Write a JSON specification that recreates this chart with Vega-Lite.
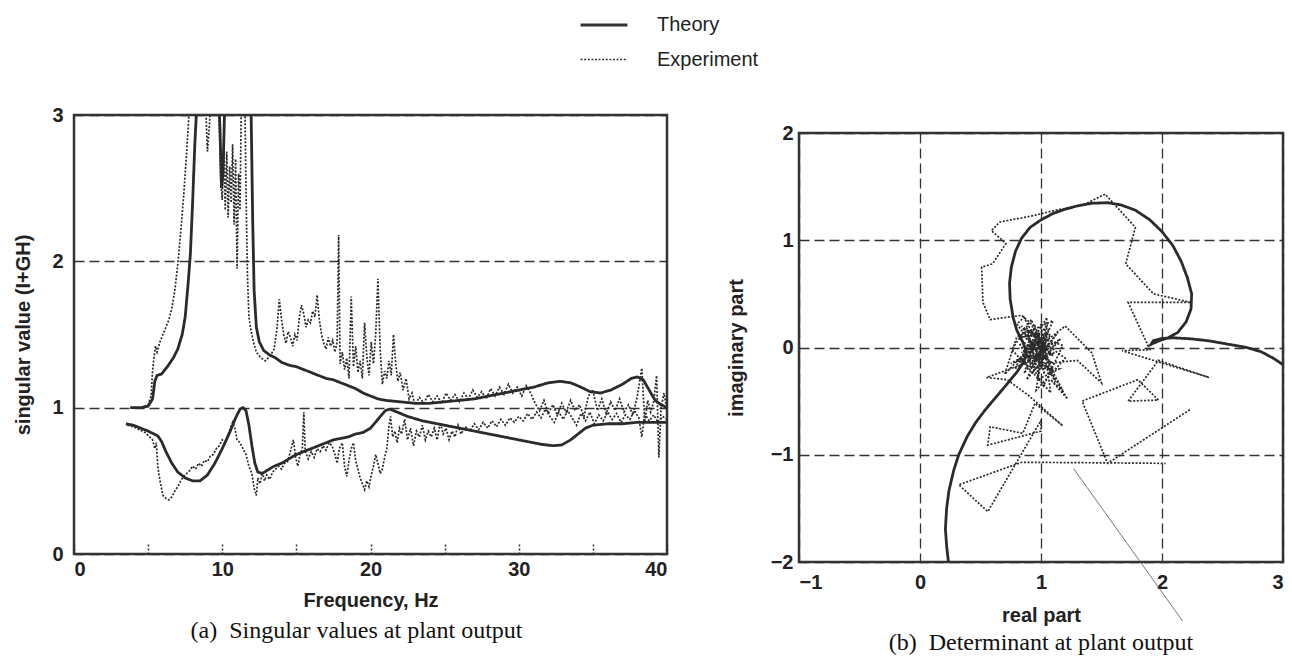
{
  "$schema": "https://vega.github.io/schema/vega-lite/v6.json",
  "background": "white",
  "padding": {"left": 12, "top": 0, "right": 5, "bottom": 5},
  "spacing": 55,
  "config": {
    "view": {"stroke": "#333", "strokeWidth": 2.5},
    "axis": {"labelFont": "Liberation Sans", "labelFontWeight": "bold", "labelFontSize": 20, "labelColor": "#222", "titleFont": "Liberation Sans", "titleFontWeight": "bold", "titleFontSize": 20, "titleColor": "#222", "domain": false, "ticks": false, "grid": true, "gridColor": "#333", "gridDash": [10, 5], "gridWidth": 1.3, "gridOpacity": 1},
    "legend": {"orient": "none", "legendX": 505, "legendY": -115, "symbolType": "stroke", "symbolSize": 2200, "symbolStrokeColor": "#333", "labelFont": "Liberation Sans", "labelFontSize": 20, "labelColor": "#222", "labelOffset": 28, "rowPadding": -2, "padding": 0},
    "title": {"font": "Liberation Serif", "fontSize": 24, "fontWeight": "normal", "color": "#111"}
  },
  "datasets": {
    "sv": [
      {"c":"T1","s":"Theory","f":3.8,"v":1.0},{"c":"T1","s":"Theory","f":4.5,"v":1.0},{"c":"T1","s":"Theory","f":5.0,"v":1.01},{"c":"T1","s":"Theory","f":5.3,"v":1.06},{"c":"T1","s":"Theory","f":5.45,"v":1.18},{"c":"T1","s":"Theory","f":5.6,"v":1.22},{"c":"T1","s":"Theory","f":5.9,"v":1.23},{"c":"T1","s":"Theory","f":6.3,"v":1.28},{"c":"T1","s":"Theory","f":6.7,"v":1.34},{"c":"T1","s":"Theory","f":7.0,"v":1.40},{"c":"T1","s":"Theory","f":7.3,"v":1.50},{"c":"T1","s":"Theory","f":7.5,"v":1.62},{"c":"T1","s":"Theory","f":7.7,"v":1.85},{"c":"T1","s":"Theory","f":7.85,"v":2.05},{"c":"T1","s":"Theory","f":8.0,"v":2.4},{"c":"T1","s":"Theory","f":8.15,"v":2.8},{"c":"T1","s":"Theory","f":8.3,"v":3.1},{"c":"T1","s":"Theory","f":8.5,"v":3.6},{"c":"T1","s":"Theory","f":9.0,"v":4.0},{"c":"T1","s":"Theory","f":9.6,"v":3.5},{"c":"T1","s":"Theory","f":9.85,"v":2.9},{"c":"T1","s":"Theory","f":9.95,"v":2.5},{"c":"T1","s":"Theory","f":10.05,"v":2.6},{"c":"T1","s":"Theory","f":10.2,"v":3.2},{"c":"T1","s":"Theory","f":10.5,"v":3.8},{"c":"T1","s":"Theory","f":11.0,"v":4.2},{"c":"T1","s":"Theory","f":11.5,"v":4.0},{"c":"T1","s":"Theory","f":11.8,"v":3.4},{"c":"T1","s":"Theory","f":11.95,"v":3.0},{"c":"T1","s":"Theory","f":12.05,"v":2.3},{"c":"T1","s":"Theory","f":12.15,"v":1.8},{"c":"T1","s":"Theory","f":12.3,"v":1.55},{"c":"T1","s":"Theory","f":12.5,"v":1.45},{"c":"T1","s":"Theory","f":12.8,"v":1.39},{"c":"T1","s":"Theory","f":13.2,"v":1.36},{"c":"T1","s":"Theory","f":13.6,"v":1.34},{"c":"T1","s":"Theory","f":14.0,"v":1.31},{"c":"T1","s":"Theory","f":14.5,"v":1.29},{"c":"T1","s":"Theory","f":15.0,"v":1.28},{"c":"T1","s":"Theory","f":15.5,"v":1.26},{"c":"T1","s":"Theory","f":16.0,"v":1.24},{"c":"T1","s":"Theory","f":16.5,"v":1.22},{"c":"T1","s":"Theory","f":17.0,"v":1.20},{"c":"T1","s":"Theory","f":17.5,"v":1.19},{"c":"T1","s":"Theory","f":18.0,"v":1.17},{"c":"T1","s":"Theory","f":18.5,"v":1.15},{"c":"T1","s":"Theory","f":19.0,"v":1.13},{"c":"T1","s":"Theory","f":19.5,"v":1.10},{"c":"T1","s":"Theory","f":20.0,"v":1.08},{"c":"T1","s":"Theory","f":20.5,"v":1.06},{"c":"T1","s":"Theory","f":21.0,"v":1.05},{"c":"T1","s":"Theory","f":22.0,"v":1.04},{"c":"T1","s":"Theory","f":23.0,"v":1.03},{"c":"T1","s":"Theory","f":24.0,"v":1.03},{"c":"T1","s":"Theory","f":25.0,"v":1.04},{"c":"T1","s":"Theory","f":26.0,"v":1.05},{"c":"T1","s":"Theory","f":27.0,"v":1.06},{"c":"T1","s":"Theory","f":28.0,"v":1.08},{"c":"T1","s":"Theory","f":29.0,"v":1.10},{"c":"T1","s":"Theory","f":30.0,"v":1.12},{"c":"T1","s":"Theory","f":31.0,"v":1.14},{"c":"T1","s":"Theory","f":32.0,"v":1.17},{"c":"T1","s":"Theory","f":32.8,"v":1.18},{"c":"T1","s":"Theory","f":33.5,"v":1.17},{"c":"T1","s":"Theory","f":34.2,"v":1.14},{"c":"T1","s":"Theory","f":34.8,"v":1.11},{"c":"T1","s":"Theory","f":35.5,"v":1.10},{"c":"T1","s":"Theory","f":36.2,"v":1.12},{"c":"T1","s":"Theory","f":37.0,"v":1.16},{"c":"T1","s":"Theory","f":37.6,"v":1.20},{"c":"T1","s":"Theory","f":38.0,"v":1.21},{"c":"T1","s":"Theory","f":38.4,"v":1.19},{"c":"T1","s":"Theory","f":38.8,"v":1.12},{"c":"T1","s":"Theory","f":39.2,"v":1.05},{"c":"T1","s":"Theory","f":39.6,"v":1.02},{"c":"T1","s":"Theory","f":40.0,"v":1.0},
      {"c":"T2","s":"Theory","f":3.5,"v":0.89},{"c":"T2","s":"Theory","f":4.0,"v":0.88},{"c":"T2","s":"Theory","f":4.5,"v":0.86},{"c":"T2","s":"Theory","f":5.0,"v":0.84},{"c":"T2","s":"Theory","f":5.4,"v":0.82},{"c":"T2","s":"Theory","f":5.6,"v":0.81},{"c":"T2","s":"Theory","f":5.7,"v":0.80},{"c":"T2","s":"Theory","f":5.9,"v":0.77},{"c":"T2","s":"Theory","f":6.2,"v":0.70},{"c":"T2","s":"Theory","f":6.6,"v":0.62},{"c":"T2","s":"Theory","f":7.0,"v":0.56},{"c":"T2","s":"Theory","f":7.5,"v":0.52},{"c":"T2","s":"Theory","f":8.0,"v":0.50},{"c":"T2","s":"Theory","f":8.5,"v":0.50},{"c":"T2","s":"Theory","f":9.0,"v":0.54},{"c":"T2","s":"Theory","f":9.5,"v":0.62},{"c":"T2","s":"Theory","f":10.0,"v":0.72},{"c":"T2","s":"Theory","f":10.5,"v":0.83},{"c":"T2","s":"Theory","f":10.9,"v":0.93},{"c":"T2","s":"Theory","f":11.2,"v":0.99},{"c":"T2","s":"Theory","f":11.4,"v":1.0},{"c":"T2","s":"Theory","f":11.6,"v":0.98},{"c":"T2","s":"Theory","f":11.8,"v":0.88},{"c":"T2","s":"Theory","f":12.0,"v":0.74},{"c":"T2","s":"Theory","f":12.2,"v":0.62},{"c":"T2","s":"Theory","f":12.4,"v":0.56},{"c":"T2","s":"Theory","f":12.7,"v":0.55},{"c":"T2","s":"Theory","f":13.0,"v":0.57},{"c":"T2","s":"Theory","f":13.5,"v":0.60},{"c":"T2","s":"Theory","f":14.0,"v":0.62},{"c":"T2","s":"Theory","f":14.5,"v":0.65},{"c":"T2","s":"Theory","f":15.0,"v":0.68},{"c":"T2","s":"Theory","f":15.5,"v":0.70},{"c":"T2","s":"Theory","f":16.0,"v":0.72},{"c":"T2","s":"Theory","f":16.5,"v":0.74},{"c":"T2","s":"Theory","f":17.0,"v":0.76},{"c":"T2","s":"Theory","f":17.5,"v":0.78},{"c":"T2","s":"Theory","f":18.0,"v":0.79},{"c":"T2","s":"Theory","f":18.5,"v":0.80},{"c":"T2","s":"Theory","f":19.0,"v":0.82},{"c":"T2","s":"Theory","f":19.5,"v":0.83},{"c":"T2","s":"Theory","f":20.0,"v":0.86},{"c":"T2","s":"Theory","f":20.5,"v":0.92},{"c":"T2","s":"Theory","f":21.0,"v":0.98},{"c":"T2","s":"Theory","f":21.3,"v":0.99},{"c":"T2","s":"Theory","f":21.8,"v":0.97},{"c":"T2","s":"Theory","f":22.5,"v":0.94},{"c":"T2","s":"Theory","f":23.5,"v":0.91},{"c":"T2","s":"Theory","f":24.5,"v":0.89},{"c":"T2","s":"Theory","f":25.5,"v":0.87},{"c":"T2","s":"Theory","f":26.5,"v":0.85},{"c":"T2","s":"Theory","f":27.5,"v":0.83},{"c":"T2","s":"Theory","f":28.5,"v":0.81},{"c":"T2","s":"Theory","f":29.5,"v":0.79},{"c":"T2","s":"Theory","f":30.5,"v":0.77},{"c":"T2","s":"Theory","f":31.5,"v":0.75},{"c":"T2","s":"Theory","f":32.3,"v":0.74},{"c":"T2","s":"Theory","f":32.9,"v":0.745},{"c":"T2","s":"Theory","f":33.5,"v":0.78},{"c":"T2","s":"Theory","f":34.0,"v":0.82},{"c":"T2","s":"Theory","f":34.5,"v":0.86},{"c":"T2","s":"Theory","f":35.0,"v":0.88},{"c":"T2","s":"Theory","f":36.0,"v":0.89},{"c":"T2","s":"Theory","f":37.0,"v":0.89},{"c":"T2","s":"Theory","f":38.0,"v":0.90},{"c":"T2","s":"Theory","f":39.0,"v":0.90},{"c":"T2","s":"Theory","f":40.0,"v":0.90},
      {"c":"E1","s":"Experiment","f":3.8,"v":1.0},{"c":"E1","s":"Experiment","f":4.5,"v":1.0},{"c":"E1","s":"Experiment","f":5.0,"v":1.02},{"c":"E1","s":"Experiment","f":5.2,"v":1.08},{"c":"E1","s":"Experiment","f":5.3,"v":1.25},{"c":"E1","s":"Experiment","f":5.4,"v":1.35},{"c":"E1","s":"Experiment","f":5.5,"v":1.42},{"c":"E1","s":"Experiment","f":5.6,"v":1.38},{"c":"E1","s":"Experiment","f":5.8,"v":1.45},{"c":"E1","s":"Experiment","f":6.0,"v":1.50},{"c":"E1","s":"Experiment","f":6.2,"v":1.55},{"c":"E1","s":"Experiment","f":6.4,"v":1.60},{"c":"E1","s":"Experiment","f":6.6,"v":1.68},{"c":"E1","s":"Experiment","f":6.8,"v":1.80},{"c":"E1","s":"Experiment","f":7.0,"v":1.98},{"c":"E1","s":"Experiment","f":7.2,"v":2.2},{"c":"E1","s":"Experiment","f":7.4,"v":2.45},{"c":"E1","s":"Experiment","f":7.6,"v":2.75},{"c":"E1","s":"Experiment","f":7.75,"v":3.0},{"c":"E1","s":"Experiment","f":7.9,"v":3.4},{"c":"E1","s":"Experiment","f":8.3,"v":3.8},{"c":"E1","s":"Experiment","f":8.8,"v":3.3},{"c":"E1","s":"Experiment","f":9.0,"v":2.75},{"c":"E1","s":"Experiment","f":9.15,"v":2.95},{"c":"E1","s":"Experiment","f":9.3,"v":3.4},{"c":"E1","s":"Experiment","f":9.7,"v":3.3},{"c":"E1","s":"Experiment","f":9.9,"v":2.55},{"c":"E1","s":"Experiment","f":10.0,"v":2.42},{"c":"E1","s":"Experiment","f":10.1,"v":2.8},{"c":"E1","s":"Experiment","f":10.2,"v":2.35},{"c":"E1","s":"Experiment","f":10.3,"v":2.75},{"c":"E1","s":"Experiment","f":10.4,"v":2.3},{"c":"E1","s":"Experiment","f":10.5,"v":2.65},{"c":"E1","s":"Experiment","f":10.6,"v":2.4},{"c":"E1","s":"Experiment","f":10.7,"v":2.8},{"c":"E1","s":"Experiment","f":10.8,"v":2.25},{"c":"E1","s":"Experiment","f":10.9,"v":2.7},{"c":"E1","s":"Experiment","f":11.0,"v":1.95},{"c":"E1","s":"Experiment","f":11.1,"v":2.6},{"c":"E1","s":"Experiment","f":11.2,"v":2.35},{"c":"E1","s":"Experiment","f":11.3,"v":3.2},{"c":"E1","s":"Experiment","f":11.5,"v":3.3},{"c":"E1","s":"Experiment","f":11.6,"v":2.5},{"c":"E1","s":"Experiment","f":11.7,"v":1.9},{"c":"E1","s":"Experiment","f":11.8,"v":1.62},{"c":"E1","s":"Experiment","f":11.9,"v":1.55},{"c":"E1","s":"Experiment","f":12.1,"v":1.45},{"c":"E1","s":"Experiment","f":12.3,"v":1.38},{"c":"E1","s":"Experiment","f":12.6,"v":1.34},{"c":"E1","s":"Experiment","f":12.9,"v":1.32},{"c":"E1","s":"Experiment","f":13.2,"v":1.35},{"c":"E1","s":"Experiment","f":13.5,"v":1.40},{"c":"E1","s":"Experiment","f":13.7,"v":1.55},{"c":"E1","s":"Experiment","f":13.85,"v":1.74},{"c":"E1","s":"Experiment","f":14.0,"v":1.6},{"c":"E1","s":"Experiment","f":14.15,"v":1.5},{"c":"E1","s":"Experiment","f":14.3,"v":1.44},{"c":"E1","s":"Experiment","f":14.45,"v":1.52},{"c":"E1","s":"Experiment","f":14.6,"v":1.48},{"c":"E1","s":"Experiment","f":14.75,"v":1.42},{"c":"E1","s":"Experiment","f":14.9,"v":1.5},{"c":"E1","s":"Experiment","f":15.05,"v":1.46},{"c":"E1","s":"Experiment","f":15.2,"v":1.62},{"c":"E1","s":"Experiment","f":15.35,"v":1.70},{"c":"E1","s":"Experiment","f":15.5,"v":1.64},{"c":"E1","s":"Experiment","f":15.65,"v":1.55},{"c":"E1","s":"Experiment","f":15.8,"v":1.6},{"c":"E1","s":"Experiment","f":15.95,"v":1.58},{"c":"E1","s":"Experiment","f":16.1,"v":1.66},{"c":"E1","s":"Experiment","f":16.25,"v":1.62},{"c":"E1","s":"Experiment","f":16.4,"v":1.77},{"c":"E1","s":"Experiment","f":16.55,"v":1.6},{"c":"E1","s":"Experiment","f":16.7,"v":1.5},{"c":"E1","s":"Experiment","f":16.85,"v":1.44},{"c":"E1","s":"Experiment","f":17.0,"v":1.4},{"c":"E1","s":"Experiment","f":17.15,"v":1.48},{"c":"E1","s":"Experiment","f":17.3,"v":1.42},{"c":"E1","s":"Experiment","f":17.45,"v":1.46},{"c":"E1","s":"Experiment","f":17.6,"v":1.38},{"c":"E1","s":"Experiment","f":17.75,"v":1.45},{"c":"E1","s":"Experiment","f":17.85,"v":2.18},{"c":"E1","s":"Experiment","f":17.95,"v":1.30},{"c":"E1","s":"Experiment","f":18.1,"v":1.38},{"c":"E1","s":"Experiment","f":18.25,"v":1.26},{"c":"E1","s":"Experiment","f":18.4,"v":1.34},{"c":"E1","s":"Experiment","f":18.55,"v":1.20},{"c":"E1","s":"Experiment","f":18.7,"v":1.76},{"c":"E1","s":"Experiment","f":18.85,"v":1.28},{"c":"E1","s":"Experiment","f":19.0,"v":1.42},{"c":"E1","s":"Experiment","f":19.15,"v":1.24},{"c":"E1","s":"Experiment","f":19.3,"v":1.32},{"c":"E1","s":"Experiment","f":19.45,"v":1.20},{"c":"E1","s":"Experiment","f":19.6,"v":1.58},{"c":"E1","s":"Experiment","f":19.75,"v":1.35},{"c":"E1","s":"Experiment","f":19.9,"v":1.22},{"c":"E1","s":"Experiment","f":20.05,"v":1.45},{"c":"E1","s":"Experiment","f":20.2,"v":1.30},{"c":"E1","s":"Experiment","f":20.35,"v":1.50},{"c":"E1","s":"Experiment","f":20.5,"v":1.88},{"c":"E1","s":"Experiment","f":20.65,"v":1.40},{"c":"E1","s":"Experiment","f":20.8,"v":1.16},{"c":"E1","s":"Experiment","f":20.95,"v":1.25},{"c":"E1","s":"Experiment","f":21.1,"v":1.20},{"c":"E1","s":"Experiment","f":21.25,"v":1.32},{"c":"E1","s":"Experiment","f":21.4,"v":1.22},{"c":"E1","s":"Experiment","f":21.55,"v":1.50},{"c":"E1","s":"Experiment","f":21.7,"v":1.30},{"c":"E1","s":"Experiment","f":21.85,"v":1.18},{"c":"E1","s":"Experiment","f":22.0,"v":1.24},{"c":"E1","s":"Experiment","f":22.2,"v":1.12},{"c":"E1","s":"Experiment","f":22.4,"v":1.20},{"c":"E1","s":"Experiment","f":22.6,"v":1.06},{"c":"E1","s":"Experiment","f":22.8,"v":1.10},{"c":"E1","s":"Experiment","f":23.0,"v":1.02},{"c":"E1","s":"Experiment","f":23.3,"v":1.07},{"c":"E1","s":"Experiment","f":23.6,"v":1.03},{"c":"E1","s":"Experiment","f":23.9,"v":1.09},{"c":"E1","s":"Experiment","f":24.2,"v":1.04},{"c":"E1","s":"Experiment","f":24.5,"v":1.08},{"c":"E1","s":"Experiment","f":24.8,"v":1.03},{"c":"E1","s":"Experiment","f":25.1,"v":1.10},{"c":"E1","s":"Experiment","f":25.4,"v":1.05},{"c":"E1","s":"Experiment","f":25.7,"v":1.09},{"c":"E1","s":"Experiment","f":26.0,"v":1.04},{"c":"E1","s":"Experiment","f":26.3,"v":1.10},{"c":"E1","s":"Experiment","f":26.6,"v":1.06},{"c":"E1","s":"Experiment","f":26.9,"v":1.12},{"c":"E1","s":"Experiment","f":27.2,"v":1.07},{"c":"E1","s":"Experiment","f":27.5,"v":1.11},{"c":"E1","s":"Experiment","f":27.8,"v":1.06},{"c":"E1","s":"Experiment","f":28.1,"v":1.13},{"c":"E1","s":"Experiment","f":28.4,"v":1.08},{"c":"E1","s":"Experiment","f":28.7,"v":1.14},{"c":"E1","s":"Experiment","f":29.0,"v":1.09},{"c":"E1","s":"Experiment","f":29.3,"v":1.16},{"c":"E1","s":"Experiment","f":29.6,"v":1.10},{"c":"E1","s":"Experiment","f":29.9,"v":1.14},{"c":"E1","s":"Experiment","f":30.2,"v":1.08},{"c":"E1","s":"Experiment","f":30.5,"v":1.15},{"c":"E1","s":"Experiment","f":30.8,"v":1.10},{"c":"E1","s":"Experiment","f":31.1,"v":1.03},{"c":"E1","s":"Experiment","f":31.4,"v":0.98},{"c":"E1","s":"Experiment","f":31.7,"v":1.05},{"c":"E1","s":"Experiment","f":32.0,"v":0.96},{"c":"E1","s":"Experiment","f":32.3,"v":1.02},{"c":"E1","s":"Experiment","f":32.6,"v":0.95},{"c":"E1","s":"Experiment","f":32.9,"v":1.03},{"c":"E1","s":"Experiment","f":33.2,"v":0.97},{"c":"E1","s":"Experiment","f":33.5,"v":1.05},{"c":"E1","s":"Experiment","f":33.8,"v":0.98},{"c":"E1","s":"Experiment","f":34.1,"v":1.02},{"c":"E1","s":"Experiment","f":34.4,"v":0.94},{"c":"E1","s":"Experiment","f":34.7,"v":1.08},{"c":"E1","s":"Experiment","f":35.0,"v":1.12},{"c":"E1","s":"Experiment","f":35.3,"v":0.98},{"c":"E1","s":"Experiment","f":35.6,"v":1.06},{"c":"E1","s":"Experiment","f":35.9,"v":0.96},{"c":"E1","s":"Experiment","f":36.2,"v":1.04},{"c":"E1","s":"Experiment","f":36.5,"v":0.98},{"c":"E1","s":"Experiment","f":36.8,"v":1.06},{"c":"E1","s":"Experiment","f":37.1,"v":0.97},{"c":"E1","s":"Experiment","f":37.4,"v":1.02},{"c":"E1","s":"Experiment","f":37.7,"v":0.95},{"c":"E1","s":"Experiment","f":38.0,"v":1.08},{"c":"E1","s":"Experiment","f":38.3,"v":1.27},{"c":"E1","s":"Experiment","f":38.5,"v":0.90},{"c":"E1","s":"Experiment","f":38.7,"v":1.05},{"c":"E1","s":"Experiment","f":38.9,"v":0.97},{"c":"E1","s":"Experiment","f":39.1,"v":1.04},{"c":"E1","s":"Experiment","f":39.3,"v":1.22},{"c":"E1","s":"Experiment","f":39.45,"v":0.66},{"c":"E1","s":"Experiment","f":39.6,"v":1.0},{"c":"E1","s":"Experiment","f":39.8,"v":1.10},{"c":"E1","s":"Experiment","f":40.0,"v":0.98},
      {"c":"E2","s":"Experiment","f":3.6,"v":0.88},{"c":"E2","s":"Experiment","f":4.0,"v":0.87},{"c":"E2","s":"Experiment","f":4.4,"v":0.85},{"c":"E2","s":"Experiment","f":4.8,"v":0.83},{"c":"E2","s":"Experiment","f":5.1,"v":0.80},{"c":"E2","s":"Experiment","f":5.3,"v":0.78},{"c":"E2","s":"Experiment","f":5.45,"v":0.72},{"c":"E2","s":"Experiment","f":5.55,"v":0.76},{"c":"E2","s":"Experiment","f":5.65,"v":0.60},{"c":"E2","s":"Experiment","f":5.75,"v":0.53},{"c":"E2","s":"Experiment","f":5.9,"v":0.45},{"c":"E2","s":"Experiment","f":6.0,"v":0.40},{"c":"E2","s":"Experiment","f":6.2,"v":0.38},{"c":"E2","s":"Experiment","f":6.4,"v":0.37},{"c":"E2","s":"Experiment","f":6.6,"v":0.39},{"c":"E2","s":"Experiment","f":6.8,"v":0.43},{"c":"E2","s":"Experiment","f":7.0,"v":0.46},{"c":"E2","s":"Experiment","f":7.2,"v":0.50},{"c":"E2","s":"Experiment","f":7.4,"v":0.53},{"c":"E2","s":"Experiment","f":7.6,"v":0.55},{"c":"E2","s":"Experiment","f":7.8,"v":0.57},{"c":"E2","s":"Experiment","f":8.0,"v":0.60},{"c":"E2","s":"Experiment","f":8.2,"v":0.58},{"c":"E2","s":"Experiment","f":8.4,"v":0.62},{"c":"E2","s":"Experiment","f":8.6,"v":0.60},{"c":"E2","s":"Experiment","f":8.8,"v":0.64},{"c":"E2","s":"Experiment","f":9.0,"v":0.63},{"c":"E2","s":"Experiment","f":9.2,"v":0.67},{"c":"E2","s":"Experiment","f":9.4,"v":0.68},{"c":"E2","s":"Experiment","f":9.6,"v":0.72},{"c":"E2","s":"Experiment","f":9.8,"v":0.74},{"c":"E2","s":"Experiment","f":10.0,"v":0.78},{"c":"E2","s":"Experiment","f":10.2,"v":0.76},{"c":"E2","s":"Experiment","f":10.4,"v":0.82},{"c":"E2","s":"Experiment","f":10.55,"v":0.86},{"c":"E2","s":"Experiment","f":10.7,"v":0.90},{"c":"E2","s":"Experiment","f":10.85,"v":0.86},{"c":"E2","s":"Experiment","f":11.0,"v":0.78},{"c":"E2","s":"Experiment","f":11.2,"v":0.76},{"c":"E2","s":"Experiment","f":11.4,"v":0.72},{"c":"E2","s":"Experiment","f":11.6,"v":0.68},{"c":"E2","s":"Experiment","f":11.8,"v":0.60},{"c":"E2","s":"Experiment","f":12.0,"v":0.55},{"c":"E2","s":"Experiment","f":12.15,"v":0.45},{"c":"E2","s":"Experiment","f":12.3,"v":0.40},{"c":"E2","s":"Experiment","f":12.4,"v":0.52},{"c":"E2","s":"Experiment","f":12.55,"v":0.48},{"c":"E2","s":"Experiment","f":12.7,"v":0.56},{"c":"E2","s":"Experiment","f":12.85,"v":0.50},{"c":"E2","s":"Experiment","f":13.0,"v":0.54},{"c":"E2","s":"Experiment","f":13.2,"v":0.51},{"c":"E2","s":"Experiment","f":13.4,"v":0.56},{"c":"E2","s":"Experiment","f":13.6,"v":0.58},{"c":"E2","s":"Experiment","f":13.8,"v":0.60},{"c":"E2","s":"Experiment","f":14.0,"v":0.58},{"c":"E2","s":"Experiment","f":14.2,"v":0.62},{"c":"E2","s":"Experiment","f":14.4,"v":0.63},{"c":"E2","s":"Experiment","f":14.6,"v":0.70},{"c":"E2","s":"Experiment","f":14.8,"v":0.78},{"c":"E2","s":"Experiment","f":14.95,"v":0.66},{"c":"E2","s":"Experiment","f":15.1,"v":0.60},{"c":"E2","s":"Experiment","f":15.25,"v":0.68},{"c":"E2","s":"Experiment","f":15.4,"v":0.72},{"c":"E2","s":"Experiment","f":15.5,"v":0.97},{"c":"E2","s":"Experiment","f":15.6,"v":0.70},{"c":"E2","s":"Experiment","f":15.8,"v":0.65},{"c":"E2","s":"Experiment","f":16.0,"v":0.70},{"c":"E2","s":"Experiment","f":16.2,"v":0.66},{"c":"E2","s":"Experiment","f":16.4,"v":0.72},{"c":"E2","s":"Experiment","f":16.6,"v":0.70},{"c":"E2","s":"Experiment","f":16.8,"v":0.74},{"c":"E2","s":"Experiment","f":17.0,"v":0.71},{"c":"E2","s":"Experiment","f":17.2,"v":0.76},{"c":"E2","s":"Experiment","f":17.4,"v":0.74},{"c":"E2","s":"Experiment","f":17.6,"v":0.68},{"c":"E2","s":"Experiment","f":17.75,"v":0.62},{"c":"E2","s":"Experiment","f":17.9,"v":0.72},{"c":"E2","s":"Experiment","f":18.1,"v":0.76},{"c":"E2","s":"Experiment","f":18.25,"v":0.60},{"c":"E2","s":"Experiment","f":18.4,"v":0.53},{"c":"E2","s":"Experiment","f":18.55,"v":0.64},{"c":"E2","s":"Experiment","f":18.7,"v":0.72},{"c":"E2","s":"Experiment","f":18.85,"v":0.76},{"c":"E2","s":"Experiment","f":19.0,"v":0.64},{"c":"E2","s":"Experiment","f":19.15,"v":0.58},{"c":"E2","s":"Experiment","f":19.3,"v":0.52},{"c":"E2","s":"Experiment","f":19.45,"v":0.48},{"c":"E2","s":"Experiment","f":19.6,"v":0.44},{"c":"E2","s":"Experiment","f":19.75,"v":0.50},{"c":"E2","s":"Experiment","f":19.9,"v":0.46},{"c":"E2","s":"Experiment","f":20.05,"v":0.54},{"c":"E2","s":"Experiment","f":20.2,"v":0.60},{"c":"E2","s":"Experiment","f":20.35,"v":0.68},{"c":"E2","s":"Experiment","f":20.5,"v":0.62},{"c":"E2","s":"Experiment","f":20.65,"v":0.55},{"c":"E2","s":"Experiment","f":20.8,"v":0.58},{"c":"E2","s":"Experiment","f":20.95,"v":0.66},{"c":"E2","s":"Experiment","f":21.1,"v":0.72},{"c":"E2","s":"Experiment","f":21.25,"v":0.88},{"c":"E2","s":"Experiment","f":21.35,"v":0.94},{"c":"E2","s":"Experiment","f":21.5,"v":0.80},{"c":"E2","s":"Experiment","f":21.65,"v":0.84},{"c":"E2","s":"Experiment","f":21.8,"v":0.76},{"c":"E2","s":"Experiment","f":21.95,"v":0.86},{"c":"E2","s":"Experiment","f":22.1,"v":0.82},{"c":"E2","s":"Experiment","f":22.3,"v":0.92},{"c":"E2","s":"Experiment","f":22.5,"v":0.78},{"c":"E2","s":"Experiment","f":22.7,"v":0.86},{"c":"E2","s":"Experiment","f":22.9,"v":0.74},{"c":"E2","s":"Experiment","f":23.1,"v":0.84},{"c":"E2","s":"Experiment","f":23.3,"v":0.80},{"c":"E2","s":"Experiment","f":23.5,"v":0.88},{"c":"E2","s":"Experiment","f":23.7,"v":0.78},{"c":"E2","s":"Experiment","f":23.9,"v":0.84},{"c":"E2","s":"Experiment","f":24.1,"v":0.80},{"c":"E2","s":"Experiment","f":24.3,"v":0.86},{"c":"E2","s":"Experiment","f":24.5,"v":0.78},{"c":"E2","s":"Experiment","f":24.7,"v":0.90},{"c":"E2","s":"Experiment","f":24.9,"v":0.82},{"c":"E2","s":"Experiment","f":25.1,"v":0.86},{"c":"E2","s":"Experiment","f":25.3,"v":0.78},{"c":"E2","s":"Experiment","f":25.5,"v":0.84},{"c":"E2","s":"Experiment","f":25.7,"v":0.80},{"c":"E2","s":"Experiment","f":25.9,"v":0.88},{"c":"E2","s":"Experiment","f":26.1,"v":0.82},{"c":"E2","s":"Experiment","f":26.4,"v":0.87},{"c":"E2","s":"Experiment","f":26.7,"v":0.84},{"c":"E2","s":"Experiment","f":27.0,"v":0.89},{"c":"E2","s":"Experiment","f":27.3,"v":0.85},{"c":"E2","s":"Experiment","f":27.6,"v":0.90},{"c":"E2","s":"Experiment","f":27.9,"v":0.86},{"c":"E2","s":"Experiment","f":28.2,"v":0.91},{"c":"E2","s":"Experiment","f":28.5,"v":0.87},{"c":"E2","s":"Experiment","f":28.8,"v":0.92},{"c":"E2","s":"Experiment","f":29.1,"v":0.88},{"c":"E2","s":"Experiment","f":29.4,"v":0.93},{"c":"E2","s":"Experiment","f":29.7,"v":0.90},{"c":"E2","s":"Experiment","f":30.0,"v":0.94},{"c":"E2","s":"Experiment","f":30.3,"v":0.91},{"c":"E2","s":"Experiment","f":30.6,"v":0.96},{"c":"E2","s":"Experiment","f":30.9,"v":0.92},{"c":"E2","s":"Experiment","f":31.2,"v":0.97},{"c":"E2","s":"Experiment","f":31.5,"v":0.93},{"c":"E2","s":"Experiment","f":31.8,"v":0.99},{"c":"E2","s":"Experiment","f":32.1,"v":0.94},{"c":"E2","s":"Experiment","f":32.4,"v":0.90},{"c":"E2","s":"Experiment","f":32.7,"v":0.97},{"c":"E2","s":"Experiment","f":33.0,"v":0.92},{"c":"E2","s":"Experiment","f":33.3,"v":0.98},{"c":"E2","s":"Experiment","f":33.6,"v":0.93},{"c":"E2","s":"Experiment","f":33.9,"v":0.88},{"c":"E2","s":"Experiment","f":34.2,"v":0.96},{"c":"E2","s":"Experiment","f":34.5,"v":0.91},{"c":"E2","s":"Experiment","f":34.8,"v":0.97},{"c":"E2","s":"Experiment","f":35.1,"v":0.89},{"c":"E2","s":"Experiment","f":35.4,"v":0.95},{"c":"E2","s":"Experiment","f":35.7,"v":0.91},{"c":"E2","s":"Experiment","f":36.0,"v":0.97},{"c":"E2","s":"Experiment","f":36.3,"v":0.92},{"c":"E2","s":"Experiment","f":36.6,"v":0.96},{"c":"E2","s":"Experiment","f":36.9,"v":0.90},{"c":"E2","s":"Experiment","f":37.2,"v":0.95},{"c":"E2","s":"Experiment","f":37.5,"v":0.92},{"c":"E2","s":"Experiment","f":37.8,"v":0.98},{"c":"E2","s":"Experiment","f":38.1,"v":0.93},{"c":"E2","s":"Experiment","f":38.3,"v":0.80},{"c":"E2","s":"Experiment","f":38.5,"v":0.96},{"c":"E2","s":"Experiment","f":38.8,"v":0.91},{"c":"E2","s":"Experiment","f":39.1,"v":0.95},{"c":"E2","s":"Experiment","f":39.4,"v":0.90},{"c":"E2","s":"Experiment","f":39.7,"v":0.94},{"c":"E2","s":"Experiment","f":40.0,"v":0.92}
    ],
    "det": [
      {"s":"Theory","i":0,"re":0.24,"im":-2.05},{"s":"Theory","i":1,"re":0.22,"im":-1.85},{"s":"Theory","i":2,"re":0.21,"im":-1.69},{"s":"Theory","i":3,"re":0.22,"im":-1.5},{"s":"Theory","i":4,"re":0.24,"im":-1.33},{"s":"Theory","i":5,"re":0.28,"im":-1.14},{"s":"Theory","i":6,"re":0.32,"im":-1.0},{"s":"Theory","i":7,"re":0.39,"im":-0.83},{"s":"Theory","i":8,"re":0.46,"im":-0.70},{"s":"Theory","i":9,"re":0.54,"im":-0.58},{"s":"Theory","i":10,"re":0.63,"im":-0.46},{"s":"Theory","i":11,"re":0.72,"im":-0.34},{"s":"Theory","i":12,"re":0.80,"im":-0.23},{"s":"Theory","i":13,"re":0.86,"im":-0.13},{"s":"Theory","i":14,"re":0.88,"im":-0.04},{"s":"Theory","i":15,"re":0.85,"im":0.05},{"s":"Theory","i":16,"re":0.80,"im":0.16},{"s":"Theory","i":17,"re":0.77,"im":0.28},{"s":"Theory","i":18,"re":0.745,"im":0.45},{"s":"Theory","i":19,"re":0.74,"im":0.60},{"s":"Theory","i":20,"re":0.755,"im":0.75},{"s":"Theory","i":21,"re":0.79,"im":0.90},{"s":"Theory","i":22,"re":0.84,"im":1.02},{"s":"Theory","i":23,"re":0.91,"im":1.12},{"s":"Theory","i":24,"re":1.0,"im":1.19},{"s":"Theory","i":25,"re":1.10,"im":1.25},{"s":"Theory","i":26,"re":1.20,"im":1.29},{"s":"Theory","i":27,"re":1.30,"im":1.32},{"s":"Theory","i":28,"re":1.42,"im":1.345},{"s":"Theory","i":29,"re":1.55,"im":1.35},{"s":"Theory","i":30,"re":1.66,"im":1.33},{"s":"Theory","i":31,"re":1.78,"im":1.28},{"s":"Theory","i":32,"re":1.90,"im":1.19},{"s":"Theory","i":33,"re":2.0,"im":1.08},{"s":"Theory","i":34,"re":2.09,"im":0.95},{"s":"Theory","i":35,"re":2.16,"im":0.80},{"s":"Theory","i":36,"re":2.21,"im":0.65},{"s":"Theory","i":37,"re":2.245,"im":0.50},{"s":"Theory","i":38,"re":2.24,"im":0.36},{"s":"Theory","i":39,"re":2.20,"im":0.24},{"s":"Theory","i":40,"re":2.13,"im":0.14},{"s":"Theory","i":41,"re":2.05,"im":0.09},{"s":"Theory","i":42,"re":1.97,"im":0.06},{"s":"Theory","i":43,"re":1.91,"im":0.03},{"s":"Theory","i":44,"re":1.93,"im":0.065},{"s":"Theory","i":45,"re":2.0,"im":0.085},{"s":"Theory","i":46,"re":2.1,"im":0.09},{"s":"Theory","i":47,"re":2.25,"im":0.08},{"s":"Theory","i":48,"re":2.4,"im":0.06},{"s":"Theory","i":49,"re":2.55,"im":0.03},{"s":"Theory","i":50,"re":2.7,"im":0.0},{"s":"Theory","i":51,"re":2.82,"im":-0.04},{"s":"Theory","i":52,"re":2.92,"im":-0.10},{"s":"Theory","i":53,"re":3.0,"im":-0.16},{"s":"Theory","i":54,"re":3.1,"im":-0.25},
      {"s":"Experiment","i":0,"re":2.23,"im":-0.58},{"s":"Experiment","i":1,"re":1.55,"im":-1.08},{"s":"Experiment","i":2,"re":1.34,"im":-0.50},{"s":"Experiment","i":3,"re":1.80,"im":-0.30},{"s":"Experiment","i":4,"re":1.97,"im":-0.49},{"s":"Experiment","i":5,"re":1.72,"im":-0.50},{"s":"Experiment","i":6,"re":1.97,"im":-0.12},{"s":"Experiment","i":7,"re":2.39,"im":-0.28},{"s":"Experiment","i":8,"re":1.67,"im":-0.03},{"s":"Experiment","i":9,"re":1.90,"im":-0.02},{"s":"Experiment","i":10,"re":1.72,"im":0.42},{"s":"Experiment","i":11,"re":2.24,"im":0.42},{"s":"Experiment","i":12,"re":1.93,"im":0.50},{"s":"Experiment","i":13,"re":1.70,"im":0.78},{"s":"Experiment","i":14,"re":1.78,"im":1.12},{"s":"Experiment","i":15,"re":1.53,"im":1.43},{"s":"Experiment","i":16,"re":1.35,"im":1.33},{"s":"Experiment","i":17,"re":1.12,"im":1.28},{"s":"Experiment","i":18,"re":0.94,"im":1.23},{"s":"Experiment","i":19,"re":0.66,"im":1.17},{"s":"Experiment","i":20,"re":0.59,"im":1.09},{"s":"Experiment","i":21,"re":0.71,"im":0.97},{"s":"Experiment","i":22,"re":0.60,"im":0.78},{"s":"Experiment","i":23,"re":0.51,"im":0.75},{"s":"Experiment","i":24,"re":0.52,"im":0.42},{"s":"Experiment","i":25,"re":0.58,"im":0.26},{"s":"Experiment","i":26,"re":0.84,"im":0.30},{"s":"Experiment","i":27,"re":0.92,"im":0.22},{"s":"Experiment","i":28,"re":1.02,"im":-0.05},{"s":"Experiment","i":29,"re":0.86,"im":0.10},{"s":"Experiment","i":30,"re":1.08,"im":0.12},{"s":"Experiment","i":31,"re":0.95,"im":-0.12},{"s":"Experiment","i":32,"re":0.88,"im":0.18},{"s":"Experiment","i":33,"re":1.10,"im":-0.08},{"s":"Experiment","i":34,"re":0.98,"im":0.08},{"s":"Experiment","i":35,"re":0.84,"im":-0.05},{"s":"Experiment","i":36,"re":1.05,"im":0.20},{"s":"Experiment","i":37,"re":1.00,"im":-0.18},{"s":"Experiment","i":38,"re":0.90,"im":0.02},{"s":"Experiment","i":39,"re":1.12,"im":0.04},{"s":"Experiment","i":40,"re":0.94,"im":-0.22},{"s":"Experiment","i":41,"re":0.99,"im":0.14},{"s":"Experiment","i":42,"re":0.87,"im":-0.10},{"s":"Experiment","i":43,"re":1.06,"im":-0.02},{"s":"Experiment","i":44,"re":0.93,"im":0.06},{"s":"Experiment","i":45,"re":1.03,"im":-0.25},{"s":"Experiment","i":46,"re":0.96,"im":0.18},{"s":"Experiment","i":47,"re":0.82,"im":0.08},{"s":"Experiment","i":48,"re":1.09,"im":-0.14},{"s":"Experiment","i":49,"re":0.91,"im":-0.04},{"s":"Experiment","i":50,"re":1.01,"im":0.10},{"s":"Experiment","i":51,"re":0.97,"im":-0.30},{"s":"Experiment","i":52,"re":1.15,"im":-0.20},{"s":"Experiment","i":53,"re":0.89,"im":-0.18},{"s":"Experiment","i":54,"re":1.04,"im":0.02},{"s":"Experiment","i":55,"re":0.95,"im":0.12},{"s":"Experiment","i":56,"re":1.00,"im":-0.08},{"s":"Experiment","i":57,"re":0.80,"im":0.22},{"s":"Experiment","i":58,"re":0.86,"im":0.28},{"s":"Experiment","i":59,"re":1.18,"im":-0.40},{"s":"Experiment","i":60,"re":1.08,"im":-0.30},{"s":"Experiment","i":61,"re":1.22,"im":-0.48},{"s":"Experiment","i":62,"re":1.04,"im":-0.15},{"s":"Experiment","i":63,"re":1.30,"im":-0.12},{"s":"Experiment","i":64,"re":1.50,"im":-0.33},{"s":"Experiment","i":65,"re":1.42,"im":-0.05},{"s":"Experiment","i":66,"re":1.20,"im":0.20},{"s":"Experiment","i":67,"re":1.02,"im":0.04},{"s":"Experiment","i":68,"re":0.92,"im":-0.08},{"s":"Experiment","i":69,"re":0.75,"im":-0.15},{"s":"Experiment","i":70,"re":0.98,"im":0.00},{"s":"Experiment","i":71,"re":1.06,"im":-0.10},{"s":"Experiment","i":72,"re":0.94,"im":0.04},{"s":"Experiment","i":73,"re":0.70,"im":-0.25},
      {"s":"Experiment","i":73.01,"re":0.80,"im":0.10},{"s":"Experiment","i":73.02,"re":1.10,"im":0.25},{"s":"Experiment","i":73.03,"re":0.88,"im":-0.30},{"s":"Experiment","i":73.04,"re":1.16,"im":0.08},{"s":"Experiment","i":73.05,"re":0.78,"im":-0.20},{"s":"Experiment","i":73.06,"re":1.05,"im":0.28},{"s":"Experiment","i":73.07,"re":0.96,"im":-0.40},{"s":"Experiment","i":73.08,"re":1.20,"im":-0.10},{"s":"Experiment","i":73.09,"re":0.84,"im":0.20},{"s":"Experiment","i":73.10,"re":1.12,"im":-0.32},{"s":"Experiment","i":73.11,"re":0.92,"im":0.26},{"s":"Experiment","i":73.12,"re":0.76,"im":-0.02},{"s":"Experiment","i":73.13,"re":1.08,"im":-0.42},{"s":"Experiment","i":73.14,"re":1.00,"im":0.22},{"s":"Experiment","i":73.15,"re":0.86,"im":-0.24},{"s":"Experiment","i":73.16,"re":1.14,"im":0.14},{"s":"Experiment","i":73.17,"re":0.94,"im":-0.16},{"s":"Experiment","i":73.18,"re":0.82,"im":0.04},{"s":"Experiment","i":73.19,"re":1.02,"im":-0.36},{"s":"Experiment","i":73.20,"re":1.18,"im":0.02},{"s":"Experiment","i":73.21,"re":0.90,"im":0.12},{"s":"Experiment","i":73.22,"re":0.98,"im":-0.26},{"s":"Experiment","i":73.23,"re":1.06,"im":0.16},{"s":"Experiment","i":73.24,"re":0.88,"im":-0.06},{"s":"Experiment","i":73.25,"re":1.10,"im":-0.22},{"s":"Experiment","i":73.26,"re":0.95,"im":0.20},{"s":"Experiment","i":73.27,"re":0.83,"im":-0.14},{"s":"Experiment","i":73.28,"re":1.04,"im":0.08},{"s":"Experiment","i":73.29,"re":0.97,"im":-0.12},{"s":"Experiment","i":73.30,"re":1.13,"im":-0.04},
      {"s":"Experiment","i":74,"re":0.55,"im":-0.28},{"s":"Experiment","i":75,"re":0.72,"im":-0.30},{"s":"Experiment","i":76,"re":0.90,"im":-0.45},{"s":"Experiment","i":77,"re":1.18,"im":-0.73},{"s":"Experiment","i":78,"re":0.95,"im":-0.52},{"s":"Experiment","i":79,"re":0.85,"im":-0.80},{"s":"Experiment","i":80,"re":0.58,"im":-0.74},{"s":"Experiment","i":81,"re":0.56,"im":-0.91},{"s":"Experiment","i":82,"re":1.00,"im":-0.78},{"s":"Experiment","i":83,"re":1.00,"im":-0.68},{"s":"Experiment","i":84,"re":0.56,"im":-1.53},{"s":"Experiment","i":85,"re":0.32,"im":-1.28},{"s":"Experiment","i":86,"re":0.84,"im":-1.07},{"s":"Experiment","i":87,"re":2.03,"im":-1.08}
    ],
    "note": [{"x1": 1.27, "y1": -1.13, "x2": 2.17, "y2": -2.55}]
  },
  "hconcat": [
    {
      "width": 593,
      "height": 439,
      "title": {"text": "(a)\u00a0\u00a0Singular values at plant output", "orient": "bottom", "offset": 9, "dx": -14},
      "data": {"name": "sv"},
      "mark": {"type": "line", "clip": true, "stroke": "#2b2b2b"},
      "encoding": {
        "x": {"field": "f", "type": "quantitative", "scale": {"domain": [0, 40], "nice": false}, "axis": {"title": "Frequency, Hz", "values": [0, 5, 10, 15, 20, 25, 30, 35, 40], "labelExpr": "datum.value % 10 === 0 ? datum.label : ''", "grid": false, "ticks": true, "tickSize": -10, "tickDash": [2, 2], "tickColor": "#333", "tickWidth": 1.5, "labelPadding": 15, "titlePadding": 11}},
        "y": {"field": "v", "type": "quantitative", "scale": {"domain": [0, 3], "nice": false}, "axis": {"title": "singular value (I+GH)", "values": [0, 1, 2, 3], "labelPadding": 11, "titlePadding": 18}},
        "detail": {"field": "c"},
        "strokeDash": {"field": "s", "type": "nominal", "scale": {"domain": ["Theory", "Experiment"], "range": [[1, 0], [2, 1.6]]}, "legend": {"title": null}},
        "strokeWidth": {"field": "s", "type": "nominal", "scale": {"domain": ["Theory", "Experiment"], "range": [2.8, 1.7]}, "legend": {"title": null}}
      }
    },
    {
      "spacing": 5,
      "vconcat": [
        {
          "width": 484,
          "height": 1,
          "view": {"stroke": null},
          "data": {"values": [{}]},
          "mark": {"type": "rule", "opacity": 0},
          "encoding": {}
        },
        {
          "width": 484,
          "height": 429,
          "title": {"text": "(b)\u00a0\u00a0Determinant at plant output", "orient": "bottom", "offset": 6},
          "layer": [
            {
              "data": {"name": "det"},
              "mark": {"type": "line", "clip": true, "stroke": "#2b2b2b"},
              "encoding": {
                "x": {"field": "re", "type": "quantitative", "scale": {"domain": [-1, 3], "nice": false}, "axis": {"title": "real part", "values": [-1, 0, 1, 2, 3], "format": "d", "labelPadding": 10, "titlePadding": 13}},
                "y": {"field": "im", "type": "quantitative", "scale": {"domain": [-2, 2], "nice": false}, "axis": {"title": "imaginary part", "values": [-2, -1, 0, 1, 2], "format": "d", "labelPadding": 6, "titlePadding": 24}},
                "order": {"field": "i", "type": "quantitative"},
                "detail": {"field": "s"},
                "strokeDash": {"field": "s", "type": "nominal", "scale": {"domain": ["Theory", "Experiment"], "range": [[1, 0], [2, 1.6]]}, "legend": {"title": null}},
                "strokeWidth": {"field": "s", "type": "nominal", "scale": {"domain": ["Theory", "Experiment"], "range": [2.8, 1.7]}, "legend": {"title": null}}
              }
            },
            {
              "data": {"name": "note"},
              "mark": {"type": "rule", "clip": false, "stroke": "#555", "strokeWidth": 0.8},
              "encoding": {
                "x": {"field": "x1", "type": "quantitative"},
                "y": {"field": "y1", "type": "quantitative"},
                "x2": {"field": "x2"},
                "y2": {"field": "y2"}
              }
            }
          ]
        }
      ]
    }
  ]
}
